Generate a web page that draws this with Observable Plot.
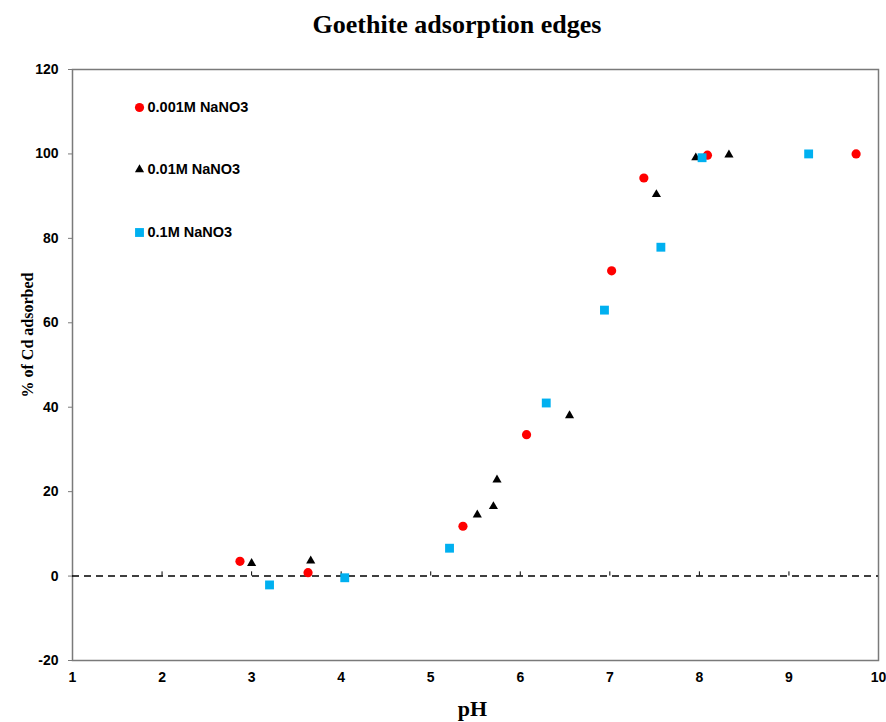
<!DOCTYPE html>
<html>
<head>
<meta charset="utf-8">
<script src="https://cdn.jsdelivr.net/npm/d3@7"></script>
<script src="https://cdn.jsdelivr.net/npm/@observablehq/plot@0.6"></script>
<style>
  body { margin: 0; background: #fff; }
  #wrap { position: relative; width: 886px; height: 722px; }
  #title { position: absolute; top: 10px; left: 0; width: 914px; text-align: center; line-height: 30px;
    font: bold 26px "Liberation Serif", "Times New Roman", serif; color: #000; }
  #chart { position: absolute; top: 50px; left: 0; }
</style>
</head>
<body>
<div id="wrap">
  <div id="title">Goethite adsorption edges</div>
  <div id="chart"></div>
</div>
<script>
// Series: 0.001M NaNO3 (red circles)
const pH_001 = [2.87, 3.63, 5.36, 6.07, 7.02, 7.38, 8.09, 9.75];
const cd_001 = [3.5, 0.8, 11.8, 33.5, 72.3, 94.3, 99.7, 100];
// Series: 0.01M NaNO3 (black triangles)
const pH_01 = [3.00, 3.66, 5.52, 5.70, 5.74, 6.55, 7.52, 7.96, 8.33];
const cd_01 = [3.0, 3.6, 14.5, 16.5, 22.8, 38.0, 90.4, 99.1, 99.8];
// Series: 0.1M NaNO3 (blue squares)
const pH_1 = [3.20, 4.04, 5.21, 6.29, 6.94, 7.57, 8.03, 9.22];
const cd_1 = [-2.1, -0.4, 6.6, 41.0, 63.0, 77.9, 99.1, 100];

const seriesNames = ["0.001M NaNO3", "0.01M NaNO3", "0.1M NaNO3"];
const xTicks = [1, 2, 3, 4, 5, 6, 7, 8, 9, 10];
const yTicks = [-20, 0, 20, 40, 60, 80, 100, 120];

const toRows = (xs, ys) => xs.map((x, i) => ({x, y: ys[i]}));
const s1 = toRows(pH_001, cd_001);
const s2 = toRows(pH_01, cd_01);
const s3 = toRows(pH_1, cd_1);

const legendStyles = [
  {symbol: "circle", fill: "#ff0000", r: 4.6},
  {symbol: "triangle", fill: "#000000", r: 3.4},
  {symbol: "square", fill: "#00b0f0", r: 5.0}
];
const legendDy = [38, 100, 163];
const legendMarks = [];
seriesNames.forEach((name, i) => {
  const st = legendStyles[i];
  legendMarks.push(Plot.dot([name], {frameAnchor: "top-left", dx: 67, dy: legendDy[i],
    symbol: st.symbol, fill: st.fill, r: st.r}));
  legendMarks.push(Plot.text([name], {frameAnchor: "top-left", dx: 75, dy: legendDy[i],
    text: d => d, textAnchor: "start", lineAnchor: "middle", fontWeight: "bold", fontSize: 14.5, fill: "#000"}));
});

const chart = Plot.plot({
  width: 886,
  height: 672,
  marginLeft: 72,
  marginRight: 8,
  marginTop: 19,
  marginBottom: 62,
  style: {background: "#fff", color: "#000", fontFamily: "'Liberation Sans', Arial, sans-serif"},
  x: {domain: [1, 10], ticks: xTicks, label: null},
  y: {domain: [-20, 120], ticks: yTicks, label: null},
  marks: [
    Plot.frame({stroke: "#7a7a7a", strokeWidth: 1.5}),
    Plot.ruleY([0], {stroke: "#000", strokeWidth: 1.5, strokeDasharray: "7,5"}),
    Plot.ruleX(xTicks.slice(1, -1), {x: d => d, y1: 0, y2: 1, stroke: "#000", strokeWidth: 1}),
    Plot.axisY({ticks: yTicks, tickSize: 4, tickPadding: 10, fontWeight: "bold", fontSize: 14, label: null,
      stroke: "#7a7a7a", tickFormat: d => String(d)}),
    Plot.axisX({ticks: xTicks, tickSize: 0, tickPadding: 12, fontWeight: "bold", fontSize: 14, label: null,
      tickFormat: d => String(d)}),
    Plot.dot(s1, {x: "x", y: "y", symbol: "circle", fill: "#ff0000", r: 4.6}),
    Plot.dot(s2, {x: "x", y: "y", symbol: "triangle", fill: "#000000", r: 3.4}),
    Plot.dot(s3, {x: "x", y: "y", symbol: "square", fill: "#00b0f0", r: 5.0}),
    ...legendMarks,
    Plot.text(["pH"], {frameAnchor: "bottom", dx: -3, dy: 48, lineAnchor: "middle", text: d => d,
      fontFamily: "'Liberation Serif', 'Times New Roman', serif", fontWeight: "bold", fontSize: 22}),
    Plot.text(["% of Cd adsorbed"], {frameAnchor: "left", dx: -45, dy: -30, rotate: -90, textAnchor: "middle", lineAnchor: "middle", text: d => d,
      fontFamily: "'Liberation Serif', 'Times New Roman', serif", fontWeight: "bold", fontSize: 16})
  ]
});
document.getElementById("chart").appendChild(chart);
</script>
</body>
</html>
